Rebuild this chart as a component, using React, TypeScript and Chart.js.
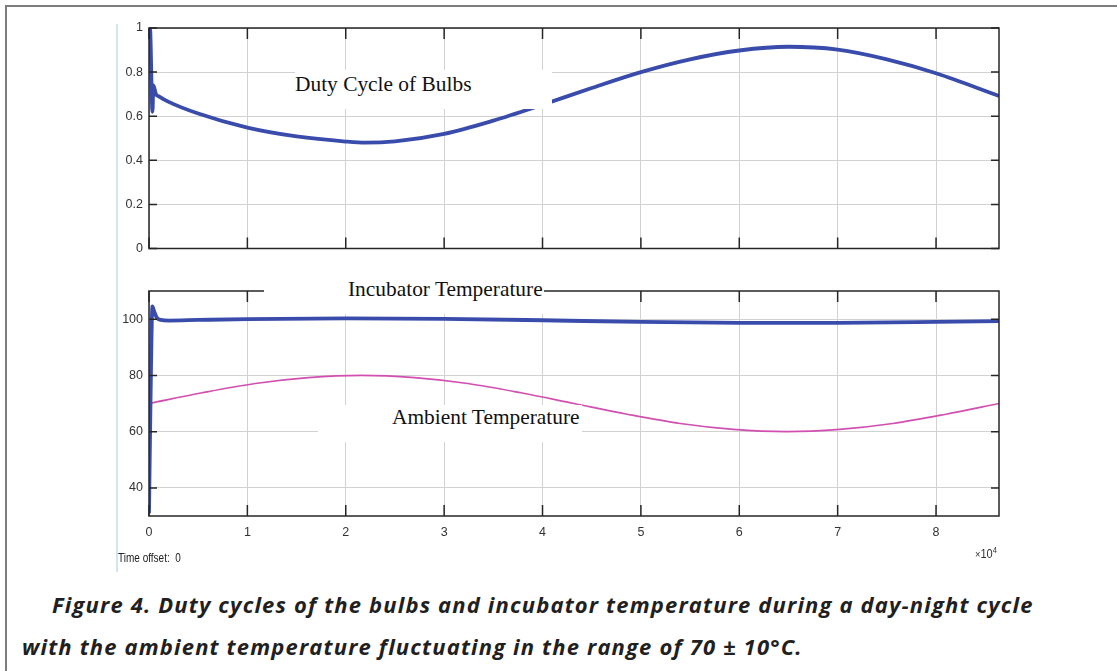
import React, { useEffect, useRef } from 'react';
import { Chart, registerables } from 'chart.js';

Chart.register(...registerables);

// ---------- data (time in seconds) ----------
const X_MIN = 0;
const X_MAX = 86400;
const X_TICKS = [0, 10000, 20000, 30000, 40000, 50000, 60000, 70000, 80000];
const Y1_TICKS = [0, 0.2, 0.4, 0.6, 0.8, 1];
const Y2_TICKS = [40, 60, 80, 100];

const DUTY_T = [0, 100, 350, 450, 700, 1000, 2000, 5000, 10000, 15000, 20000, 22000, 25000, 30000, 35000, 40000, 45000, 50000, 55000, 60000, 65000, 70000, 75000, 80000, 86400];
const DUTY = [1.0, 1.0, 0.62, 0.74, 0.7, 0.69, 0.665, 0.612, 0.548, 0.508, 0.485, 0.48, 0.486, 0.52, 0.58, 0.652, 0.728, 0.8, 0.858, 0.898, 0.915, 0.902, 0.858, 0.795, 0.692];

const INC_T = [0, 150, 350, 500, 800, 1200, 2000, 5000, 10000, 20000, 30000, 40000, 50000, 60000, 70000, 80000, 86400];
const INC = [31, 70, 104.5, 103, 100.5, 99.7, 99.5, 99.7, 100, 100.3, 100.1, 99.6, 99.0, 98.7, 98.7, 99.0, 99.3];

const AMB_T = [0, 5400, 10800, 16200, 21600, 27000, 32400, 37800, 43200, 48600, 54000, 59400, 64800, 70200, 75600, 81000, 86400];
const AMB = [70, 73.8, 77.1, 79.2, 80, 79.2, 77.1, 73.8, 70, 66.2, 62.9, 60.8, 60, 60.8, 62.9, 66.2, 70];

const BLUE = '#3a4cab';
const PINK = '#d14fb0';
const TICK_FONT = "'Liberation Sans', Arial, sans-serif";
const SERIF = "'Liberation Serif', 'Times New Roman', serif";

const pairs = (xs: number[], ys: number[]) => xs.map((x, i) => ({ x, y: ys[i] }));

const framePlugin = {
  id: 'scopeFrame',
  afterDatasetsDraw(chart: any) {
    const { ctx, chartArea: a, scales } = chart;
    const xs = scales.x;
    const ys = scales.y;
    ctx.save();
    ctx.strokeStyle = '#262626';
    ctx.lineWidth = 1.5;
    ctx.strokeRect(a.left, a.top, a.right - a.left, a.bottom - a.top);
    ctx.beginPath();
    xs.ticks.forEach((t: any) => {
      const px = xs.getPixelForValue(t.value);
      ctx.moveTo(px, a.bottom);
      ctx.lineTo(px, a.bottom - 11);
      ctx.moveTo(px, a.top);
      ctx.lineTo(px, a.top + 11);
    });
    ys.ticks.forEach((t: any) => {
      const py = ys.getPixelForValue(t.value);
      ctx.moveTo(a.left, py);
      ctx.lineTo(a.left + 8, py);
      ctx.moveTo(a.right, py);
      ctx.lineTo(a.right - 8, py);
    });
    ctx.stroke();
    ctx.restore();
  },
};

type ScopeProps = {
  top: number;
  height: number;
  datasets: any[];
  yMin: number;
  yMax: number;
  yTicks: number[];
  showXLabels: boolean;
  padTop: number;
  padBottom: number;
  xHeight: number;
};

function ScopeChart(p: ScopeProps) {
  const ref = useRef<HTMLCanvasElement>(null);
  useEffect(() => {
    const chart = new Chart(ref.current as HTMLCanvasElement, {
      type: 'line',
      data: { datasets: p.datasets },
      plugins: [framePlugin],
      options: {
        animation: false,
        responsive: true,
        maintainAspectRatio: false,
        parsing: false as any,
        layout: { padding: { left: 109, right: 118, top: p.padTop, bottom: p.padBottom } },
        plugins: { legend: { display: false }, tooltip: { enabled: false } },
        elements: { point: { radius: 0 } },
        scales: {
          x: {
            type: 'linear',
            min: X_MIN,
            max: X_MAX,
            afterBuildTicks: (s: any) => {
              s.ticks = X_TICKS.map((v) => ({ value: v }));
            },
            afterFit: (s: any) => {
              s.height = p.xHeight;
            },
            grid: { color: '#d2d2d2', lineWidth: 1, drawTicks: false },
            border: { display: false },
            ticks: {
              display: p.showXLabels,
              padding: 9,
              color: '#333',
              font: { family: TICK_FONT, size: 12.5 },
              maxRotation: 0,
              callback: (v: any) => String(Number(v) / 10000),
            },
          },
          y: {
            type: 'linear',
            min: p.yMin,
            max: p.yMax,
            afterBuildTicks: (s: any) => {
              s.ticks = p.yTicks.map((v) => ({ value: v }));
            },
            afterFit: (s: any) => {
              s.width = 40;
            },
            grid: { color: '#d2d2d2', lineWidth: 1, drawTicks: false },
            border: { display: false },
            ticks: {
              padding: 6,
              color: '#333',
              font: { family: TICK_FONT, size: 12.5 },
              callback: (v: any) => String(v),
            },
          },
        },
      },
    });
    return () => chart.destroy();
  }, []);
  return (
    <div style={{ position: 'absolute', left: 0, top: p.top, width: 1117, height: p.height }}>
      <canvas ref={ref} />
    </div>
  );
}

const labelBox = (left: number, top: number, width: number, height: number): React.CSSProperties => ({
  position: 'absolute',
  left,
  top,
  width,
  height,
  background: '#fff',
});

const serifText = (left: number, top: number): React.CSSProperties => ({
  position: 'absolute',
  left,
  top,
  fontFamily: SERIF,
  fontSize: 21.4,
  lineHeight: 1,
  color: '#111',
  whiteSpace: 'nowrap',
});

const captionStyle = (left: number, top: number): React.CSSProperties => ({
  position: 'absolute',
  left,
  top,
  fontFamily: "'Open Sans', 'Noto Sans', sans-serif",
  fontWeight: 700,
  fontStyle: 'italic',
  fontSize: 22,
  letterSpacing: 1.15,
  lineHeight: 1,
  color: '#231f20',
  whiteSpace: 'nowrap',
});

export default function App() {
  const topSets = [
    {
      label: 'Duty Cycle of Bulbs',
      data: pairs(DUTY_T, DUTY),
      borderColor: BLUE,
      borderWidth: 3.8,
      cubicInterpolationMode: 'monotone',
      fill: false,
    },
  ];
  const bottomSets = [
    {
      label: 'Incubator Temperature',
      data: pairs(INC_T, INC),
      borderColor: BLUE,
      borderWidth: 3.8,
      cubicInterpolationMode: 'monotone',
      fill: false,
    },
    {
      label: 'Ambient Temperature',
      data: pairs(AMB_T, AMB),
      borderColor: PINK,
      borderWidth: 1.6,
      cubicInterpolationMode: 'monotone',
      fill: false,
    },
  ];

  return (
    <div style={{ position: 'absolute', left: 0, top: 0, width: 1117, height: 671, overflow: 'hidden', background: '#fff' }}>
      <div style={{ position: 'absolute', left: 5, top: 5, width: 1300, height: 900, borderLeft: '2px solid #7d7d7d', borderTop: '2px solid #7d7d7d' }} />
      <div style={{ position: 'absolute', left: 116, top: 24, width: 2, height: 548, background: '#d3e3f4' }} />

      <ScopeChart top={0} height={262} datasets={topSets} yMin={0} yMax={1} yTicks={Y1_TICKS} showXLabels={false} padTop={28} padBottom={9} xHeight={0} />
      <ScopeChart top={262} height={290} datasets={bottomSets} yMin={30} yMax={110} yTicks={Y2_TICKS} showXLabels={true} padTop={29} padBottom={6} xHeight={30} />

      <div style={labelBox(295, 70, 257, 39)} />
      <div style={serifText(295, 74.2)}>Duty Cycle of Bulbs</div>

      <div style={labelBox(264, 270, 280, 44)} />
      <div style={serifText(348, 279.2)}>Incubator Temperature</div>

      <div style={labelBox(318, 405, 264, 37)} />
      <div style={serifText(392, 407.2)}>Ambient Temperature</div>

      <div style={{ position: 'absolute', left: 975, top: 545, lineHeight: 1, whiteSpace: 'nowrap', fontFamily: TICK_FONT, color: '#333', transform: 'scaleX(0.85)', transformOrigin: 'left top' }}>
        <span style={{ fontSize: 11 }}>×</span>
        <span style={{ fontSize: 13 }}>10</span>
        <span style={{ fontSize: 9, position: 'relative', top: -5 }}>4</span>
      </div>

      <div style={{ position: 'absolute', left: 118, top: 552, fontFamily: TICK_FONT, fontSize: 12.5, lineHeight: 1, color: '#222', whiteSpace: 'pre', transform: 'scaleX(0.8)', transformOrigin: 'left top' }}>
        {'Time offset:  0'}
      </div>

      <div style={captionStyle(52, 593)}>
        Figure 4. Duty cycles of the bulbs and incubator temperature during a day-night cycle
      </div>
      <div style={captionStyle(22, 635)}>
        with the ambient temperature fluctuating in the range of 70 ± 10°C.
      </div>
    </div>
  );
}
